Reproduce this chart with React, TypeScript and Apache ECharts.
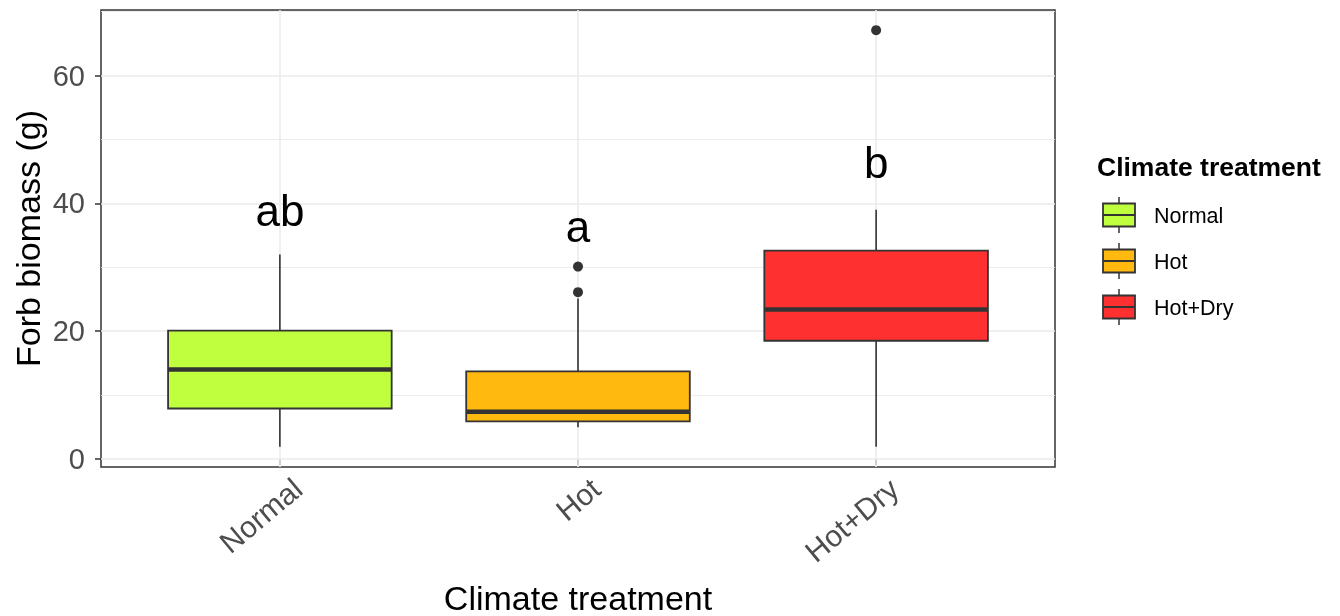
import React, { useEffect, useRef } from "react";
import * as echarts from "echarts";

const categories = ["Normal", "Hot", "Hot+Dry"];
const fills = ["#C0FF3E", "#FFB90F", "#FF3030"];
const whiskerLow = [1.9, 4.95, 1.9];
const q1 = [7.9, 5.9, 18.5];
const median = [14.0, 7.4, 23.4];
const q3 = [20.1, 13.7, 32.6];
const whiskerHigh = [32.0, 25.1, 39.0];
const outlierGroup = [2, 2, 3];
const outlierValue = [26.1, 30.1, 67.1];
const letters = ["ab", "a", "b"];
const letterY = [38.9, 36.4, 46.4];
const yTicks = [0, 20, 40, 60];
const yMinor = [10, 30, 50, 70];
const xTicks = [1, 2, 3];

const FONT = "'Liberation Sans', Arial, Helvetica, sans-serif";
const DARK = "#333333";
const GRID = "#EBEBEB";
const BOX_WIDTH = 0.75;

export default function App() {
  const ref = useRef<HTMLDivElement>(null);
  useEffect(() => {
    document.body.style.margin = "0";
    const chart = echarts.init(ref.current!, null, { renderer: "svg" });

    const legendGraphics: any[] = [
      {
        type: "text",
        x: 1097,
        y: 167,
        style: {
          text: "Climate treatment",
          fontSize: 26.5,
          fontWeight: "bold",
          fontFamily: FONT,
          fill: "#000",
          align: "left",
          verticalAlign: "middle",
        },
      },
    ];
    categories.forEach((c, i) => {
      const cy = 215 + 46 * i;
      const bx = 1103;
      const bw = 32;
      const bh = 23;
      legendGraphics.push(
        { type: "line", shape: { x1: bx + bw / 2, y1: cy - 18, x2: bx + bw / 2, y2: cy + 18 }, style: { stroke: DARK, lineWidth: 1.5 } },
        { type: "rect", shape: { x: bx, y: cy - bh / 2, width: bw, height: bh }, style: { fill: fills[i], stroke: DARK, lineWidth: 1.8 } },
        { type: "line", shape: { x1: bx, y1: cy, x2: bx + bw, y2: cy }, style: { stroke: DARK, lineWidth: 2 } },
        {
          type: "text",
          x: 1154,
          y: cy + 0.5,
          style: { text: c, fontSize: 21.5, fontFamily: FONT, fill: "#000", align: "left", verticalAlign: "middle" },
        }
      );
    });

    const option: any = {
      animation: false,
      textStyle: { fontFamily: FONT },
      grid: {
        left: 101,
        right: 285,
        top: 10,
        bottom: 149,
        show: true,
        borderColor: DARK,
        borderWidth: 1.5,
        backgroundColor: "transparent",
        containLabel: false,
        outerBoundsMode: "none",
      },
      xAxis: {
        type: "value",
        min: 0.4,
        max: 3.6,
        name: "Climate treatment",
        nameLocation: "middle",
        nameGap: 114,
        nameMoveOverlap: false,
        nameTextStyle: { fontSize: 34, color: "#000", fontFamily: FONT },
        axisLine: { show: false },
        splitLine: { show: false },
        axisTick: { show: true, customValues: xTicks, length: 6, lineStyle: { color: DARK, width: 1.5 } },
        axisLabel: {
          customValues: xTicks,
          formatter: (v: number) => "\n" + (categories[Math.round(v) - 1] ?? ""),
          rotate: 40,
          fontSize: 30,
          lineHeight: 56,
          color: "#4D4D4D",
          margin: -4,
          fontFamily: FONT,
        },
      },
      yAxis: {
        type: "value",
        min: -1.25,
        max: 70.25,
        name: "Forb biomass (g)",
        nameLocation: "middle",
        nameGap: 56,
        nameMoveOverlap: false,
        nameTextStyle: { fontSize: 34, color: "#000", fontFamily: FONT },
        axisLine: { show: false },
        splitLine: { show: false },
        axisTick: { show: true, customValues: yTicks, length: 6, lineStyle: { color: DARK, width: 1.5 } },
        axisLabel: { customValues: yTicks, fontSize: 29, color: "#4D4D4D", margin: 16, fontFamily: FONT },
      },
      graphic: legendGraphics,
      series: [
        {
          type: "line",
          data: [],
          z: 1,
          silent: true,
          markLine: {
            z: 1,
            silent: true,
            symbol: ["none", "none"],
            label: { show: false },
            lineStyle: { color: GRID, width: 1.6, type: "solid" },
            emphasis: { disabled: true },
            data: [
              ...yMinor.map((v) => ({ yAxis: v, lineStyle: { color: GRID, width: 0.9, type: "solid" } })),
              ...yTicks.map((v) => ({ yAxis: v })),
              ...xTicks.map((v) => ({ xAxis: v })),
            ],
          },
        },
        {
          type: "custom",
          z: 10,
          silent: true,
          data: categories.map((c, i) => [i + 1, whiskerLow[i], q1[i], median[i], q3[i], whiskerHigh[i]]),
          encode: { x: 0, y: [1, 2, 3, 4, 5] },
          renderItem: (params: any, api: any) => {
            const x = api.value(0);
            const pLow = api.coord([x, api.value(1)]);
            const pQ1 = api.coord([x, api.value(2)]);
            const pMed = api.coord([x, api.value(3)]);
            const pQ3 = api.coord([x, api.value(4)]);
            const pHigh = api.coord([x, api.value(5)]);
            const w = api.size([BOX_WIDTH, 0])[0];
            const cx = pMed[0];
            return {
              type: "group",
              children: [
                { type: "line", shape: { x1: cx, y1: pQ1[1], x2: cx, y2: pLow[1] }, style: { stroke: DARK, lineWidth: 1.6 } },
                { type: "line", shape: { x1: cx, y1: pQ3[1], x2: cx, y2: pHigh[1] }, style: { stroke: DARK, lineWidth: 1.6 } },
                {
                  type: "rect",
                  shape: { x: cx - w / 2, y: pQ3[1], width: w, height: pQ1[1] - pQ3[1] },
                  style: { fill: fills[params.dataIndex], stroke: DARK, lineWidth: 1.8 },
                },
                { type: "line", shape: { x1: cx - w / 2, y1: pMed[1], x2: cx + w / 2, y2: pMed[1] }, style: { stroke: DARK, lineWidth: 4.5 } },
              ],
            };
          },
        },
        {
          type: "scatter",
          z: 11,
          silent: true,
          symbol: "circle",
          symbolSize: 10,
          itemStyle: { color: DARK, opacity: 1 },
          data: outlierGroup.map((g, i) => [g, outlierValue[i]]),
        },
        {
          type: "scatter",
          z: 12,
          silent: true,
          symbolSize: 0,
          itemStyle: { color: "transparent" },
          data: letters.map((l, i) => [i + 1, letterY[i], l]),
          label: {
            show: true,
            position: "inside",
            formatter: (p: any) => p.data[2],
            fontSize: 44,
            color: "#000",
            opacity: 1,
            textBorderWidth: 0,
            fontFamily: FONT,
          },
        },
      ],
    };
    chart.setOption(option);
    return () => chart.dispose();
  }, []);
  return <div ref={ref} style={{ position: "fixed", left: 0, top: 0, width: 1340, height: 616 }} />;
}
